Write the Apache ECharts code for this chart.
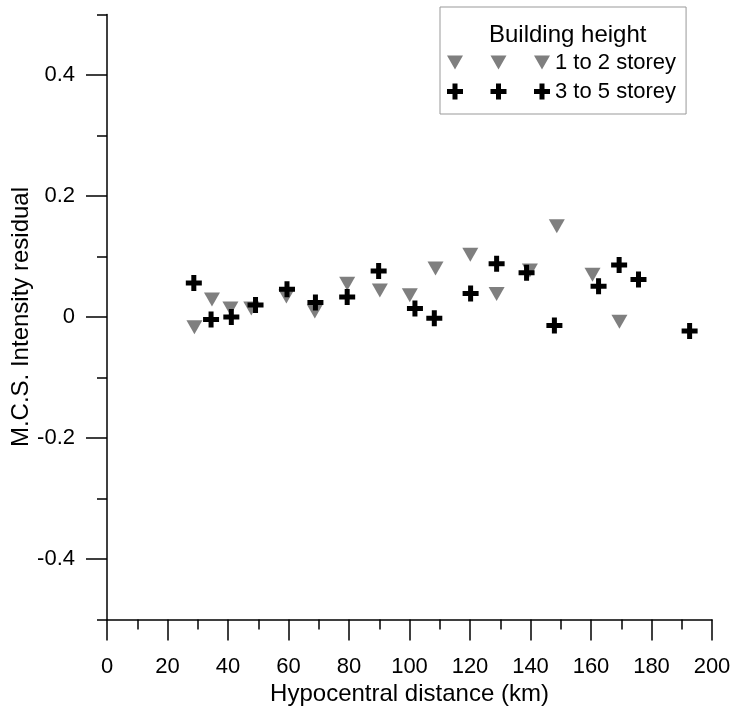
<!DOCTYPE html>
<html>
<head>
<meta charset="utf-8">
<script src="https://cdn.jsdelivr.net/npm/echarts@6/dist/echarts.min.js"></script>
<style>
  html, body { margin: 0; padding: 0; background: #fff; }
  #main { width: 735px; height: 713px; }
</style>
</head>
<body>
<div id="main"></div>
<script>
// hypocentral distance (km), M.C.S. intensity residual
var lowRise = [
  [28.9, -0.017], [34.7, 0.029], [40.8, 0.014], [47.7, 0.014], [59.3, 0.034],
  [68.7, 0.009], [79.4, 0.055], [90.2, 0.044], [100.1, 0.036], [108.6, 0.080],
  [120.1, 0.103], [128.8, 0.038], [139.8, 0.077], [148.7, 0.150], [160.5, 0.070],
  [169.4, -0.008]
];
var midRise = [
  [28.7, 0.056], [34.4, -0.004], [41.1, 0.000], [49.1, 0.020], [59.5, 0.046],
  [68.9, 0.024], [79.4, 0.033], [89.8, 0.076], [101.8, 0.014], [108.2, -0.002],
  [120.2, 0.039], [128.8, 0.088], [138.7, 0.073], [147.9, -0.014], [162.5, 0.051],
  [169.3, 0.086], [175.7, 0.062], [192.6, -0.023]
];
var seriesNames = ['1 to 2 storey', '3 to 5 storey'];

var triPath = 'path://M0 0L16 0L8 14Z';
var plusPath = 'path://M5.5 0H10.5V5.5H16V10.5H10.5V16H5.5V10.5H0V5.5H5.5Z';
var triLegend = 'path://M0 1L16 1L8 15ZM43.5 1L59.5 1L51.5 15ZM87 1L103 1L95 15Z';
var plusLegend = 'path://M5.5 0H10.5V5.5H16V10.5H10.5V16H5.5V10.5H0V5.5H5.5Z' +
  'M49 0H54V5.5H59.5V10.5H54V16H49V10.5H43.5V5.5H49Z' +
  'M92.5 0H97.5V5.5H103V10.5H97.5V16H92.5V10.5H87V5.5H92.5Z';

var font = 'Liberation Sans, Arial, sans-serif';
var myChart = echarts.init(document.getElementById('main'));

var option = {
  backgroundColor: '#fff',
  animation: false,
  textStyle: { fontFamily: font, color: '#000' },
  title: {
    text: 'Building height',
    left: 484, top: 18,
    textStyle: { fontFamily: font, fontSize: 24, fontWeight: 'normal', color: '#000' }
  },
  legend: {
    orient: 'vertical',
    left: 440, top: 7,
    padding: [44, 10, 11, 7],
    itemGap: 6,
    itemWidth: 103, itemHeight: 16,
    borderColor: '#999', borderWidth: 1,
    textStyle: { fontFamily: font, fontSize: 22, color: '#000', lineHeight: 23 },
    data: [
      { name: seriesNames[0], icon: triLegend },
      { name: seriesNames[1], icon: plusLegend }
    ]
  },
  grid: [
    { left: 107, right: 23, top: 14.5, bottom: 93.5 },
    { left: 107, right: 23, top: 75, bottom: 154 }
  ],
  xAxis: [{
    gridIndex: 0,
    type: 'value', min: 0, max: 200, interval: 20,
    name: 'Hypocentral distance (km)',
    nameLocation: 'middle', nameGap: 60,
    nameTextStyle: { fontFamily: font, fontSize: 24, color: '#000' },
    axisLine: { show: true, onZero: false, lineStyle: { color: '#000', width: 1.5 } },
    axisTick: { show: true, length: 21, lineStyle: { color: '#000', width: 1.5 } },
    minorTick: { show: true, splitNumber: 2, length: 10, lineStyle: { color: '#000', width: 1.5 } },
    axisLabel: { fontFamily: font, fontSize: 22, color: '#000', margin: 36 },
    splitLine: { show: false }
  }, {
    gridIndex: 1,
    type: 'value', min: 0, max: 200, show: false
  }],
  yAxis: [{
    gridIndex: 0,
    type: 'value', min: -0.5, max: 0.5, interval: 0.1,
    name: 'M.C.S. Intensity residual',
    nameLocation: 'middle', nameGap: 74,
    nameTextStyle: { fontFamily: font, fontSize: 24, color: '#000' },
    axisLine: { show: true, onZero: false, lineStyle: { color: '#000', width: 1.5 } },
    axisTick: { show: true, length: 10, lineStyle: { color: '#000', width: 1.5 } },
    axisLabel: { show: false },
    splitLine: { show: false }
  }, {
    // long ticks and labels every 0.2
    gridIndex: 1,
    type: 'value', min: -0.4, max: 0.4, interval: 0.2,
    axisLine: { show: false, onZero: false },
    axisTick: { show: true, length: 21, lineStyle: { color: '#000', width: 1.5 } },
    axisLabel: {
      fontFamily: font, fontSize: 22, color: '#000', margin: 32,
      formatter: function (v) { return Math.abs(v) < 1e-9 ? '0' : String(+v.toFixed(1)); }
    },
    splitLine: { show: false }
  }],
  series: [
    {
      name: seriesNames[0],
      type: 'scatter',
      xAxisIndex: 0, yAxisIndex: 0,
      symbol: triPath,
      symbolSize: [16, 14],
      itemStyle: { color: '#7f7f7f', opacity: 1 },
      data: lowRise
    },
    {
      name: seriesNames[1],
      type: 'scatter',
      xAxisIndex: 0, yAxisIndex: 0,
      symbol: plusPath,
      symbolSize: [16, 16],
      itemStyle: { color: '#000', opacity: 1 },
      data: midRise
    }
  ]
};

myChart.setOption(option);
</script>
</body>
</html>
